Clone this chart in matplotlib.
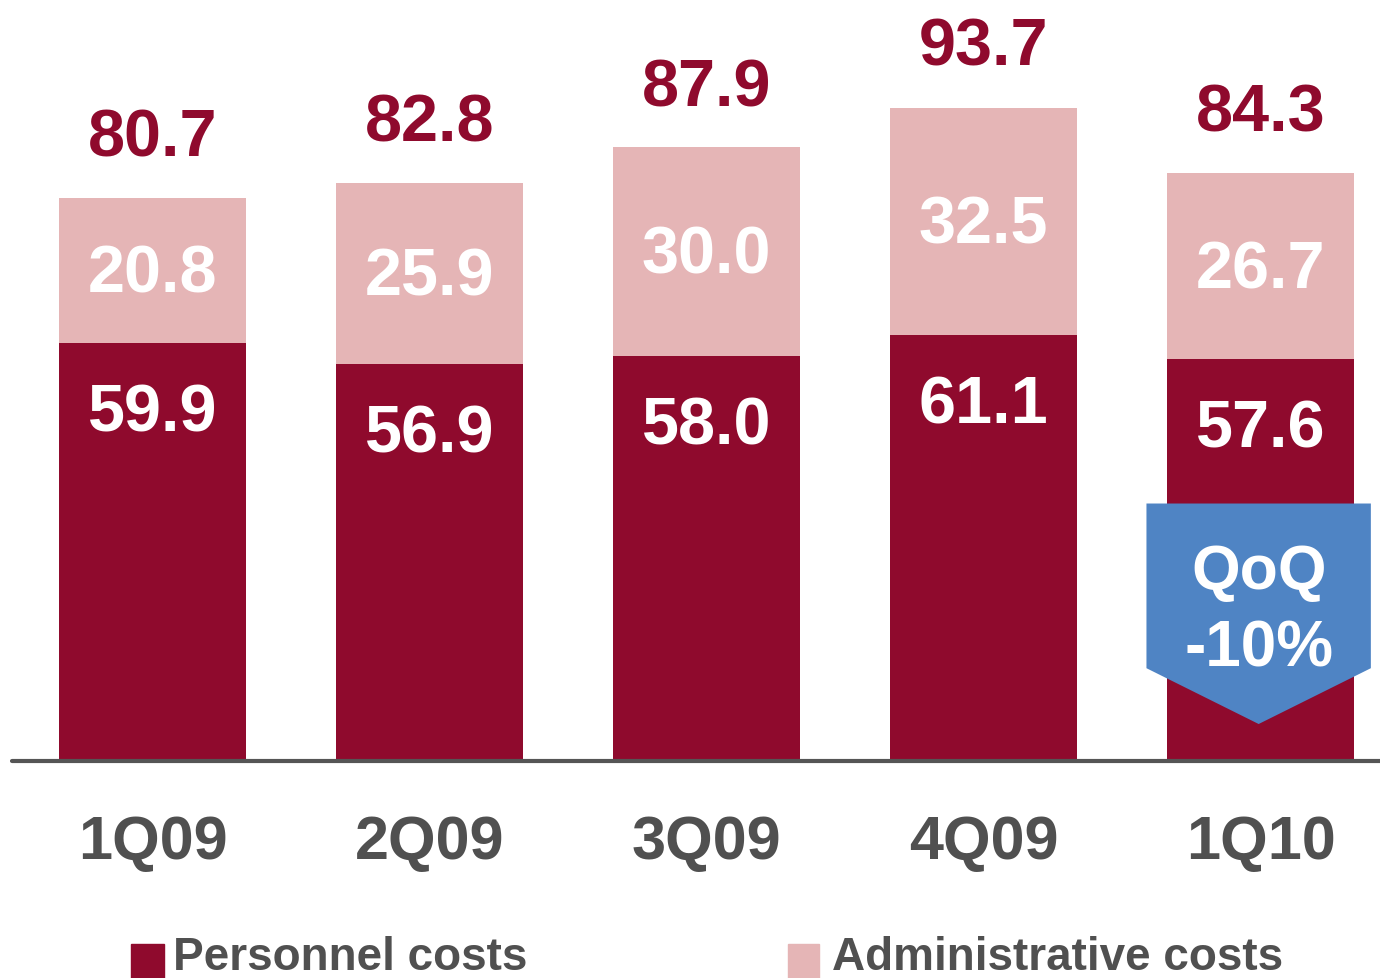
import matplotlib
matplotlib.use("Agg")
import matplotlib.pyplot as plt
from matplotlib.patches import Polygon, Rectangle

# Quarterly operating costs (EUR m)
quarters = ["1Q09", "2Q09", "3Q09", "4Q09", "1Q10"]
personnel = [59.9, 56.9, 58.0, 61.1, 57.6]
administrative = [20.8, 25.9, 30.0, 32.5, 26.7]
totals = [80.7, 82.8, 87.9, 93.7, 84.3]

DARK_RED = "#8f0a2d"
PINK = "#e5b5b6"
BLUE = "#4f84c4"
GRAY = "#505050"
FONT = "Liberation Sans"

fig = plt.figure(figsize=(13.8, 9.79), dpi=100)
ax = fig.add_axes([12 / 1380, (979 - 762) / 979, (1380 - 12) / 1380, 762 / 979])

x = list(range(len(quarters)))
width = 0.675
ax.bar(x, personnel, width=width, color=DARK_RED, zorder=2)
ax.bar(x, administrative, width=width, bottom=personnel, color=PINK, zorder=2)

ax.set_xlim(-0.507, 4.431)
ax.set_ylim(0, 109.2)
ax.axis("off")

# baseline
ax.plot([-0.507, 4.431], [0, 0], color="#555555", lw=3, solid_capstyle="round",
        zorder=3, clip_on=False)

for i in x:
    ax.text(i, totals[i] + 8.5, f"{totals[i]:.1f}", ha="center", va="center",
            fontsize=48, fontweight="bold", color=DARK_RED, family=FONT)
    ax.text(i, personnel[i] + administrative[i] / 2 - 0.6, f"{administrative[i]:.1f}",
            ha="center", va="center", fontsize=48, fontweight="bold",
            color="white", family=FONT, zorder=4)
    ax.text(i, personnel[i] - 10.1, f"{personnel[i]:.1f}", ha="center", va="center",
            fontsize=48, fontweight="bold", color="white", family=FONT, zorder=4)
    ax.text(i, -11.7, quarters[i], ha="center", va="center", fontsize=44,
            fontweight="bold", color=GRAY, family=FONT, clip_on=False)

# QoQ change badge on the latest quarter
cx = 4 - 0.007
hw = 0.405
badge = Polygon([(cx - hw, 36.9), (cx + hw, 36.9), (cx + hw, 13.3),
                 (cx, 5.3), (cx - hw, 13.3)], closed=True,
                facecolor=BLUE, edgecolor="none", zorder=5)
ax.add_patch(badge)
ax.text(cx, 27.2, "QoQ", ha="center", va="center", fontsize=45,
        fontweight="bold", color="white", family=FONT, zorder=6)
ax.text(cx, 16.1, "-10%", ha="center", va="center", fontsize=46,
        fontweight="bold", color="white", family=FONT, zorder=6)

# legend along the bottom edge
fig.patches.append(Rectangle((131 / 1380, 0), 33 / 1380, 34 / 979,
                             transform=fig.transFigure, color=DARK_RED))
fig.text(173 / 1380, 9 / 979, "Personnel costs", ha="left", va="baseline",
         fontsize=33, fontweight="bold", color=GRAY, family=FONT)
fig.patches.append(Rectangle((788 / 1380, 0), 31 / 1380, 34 / 979,
                             transform=fig.transFigure, color=PINK))
fig.text(832 / 1380, 9 / 979, "Administrative costs", ha="left", va="baseline",
         fontsize=33, fontweight="bold", color=GRAY, family=FONT)

fig.savefig("out.png", dpi=100)
